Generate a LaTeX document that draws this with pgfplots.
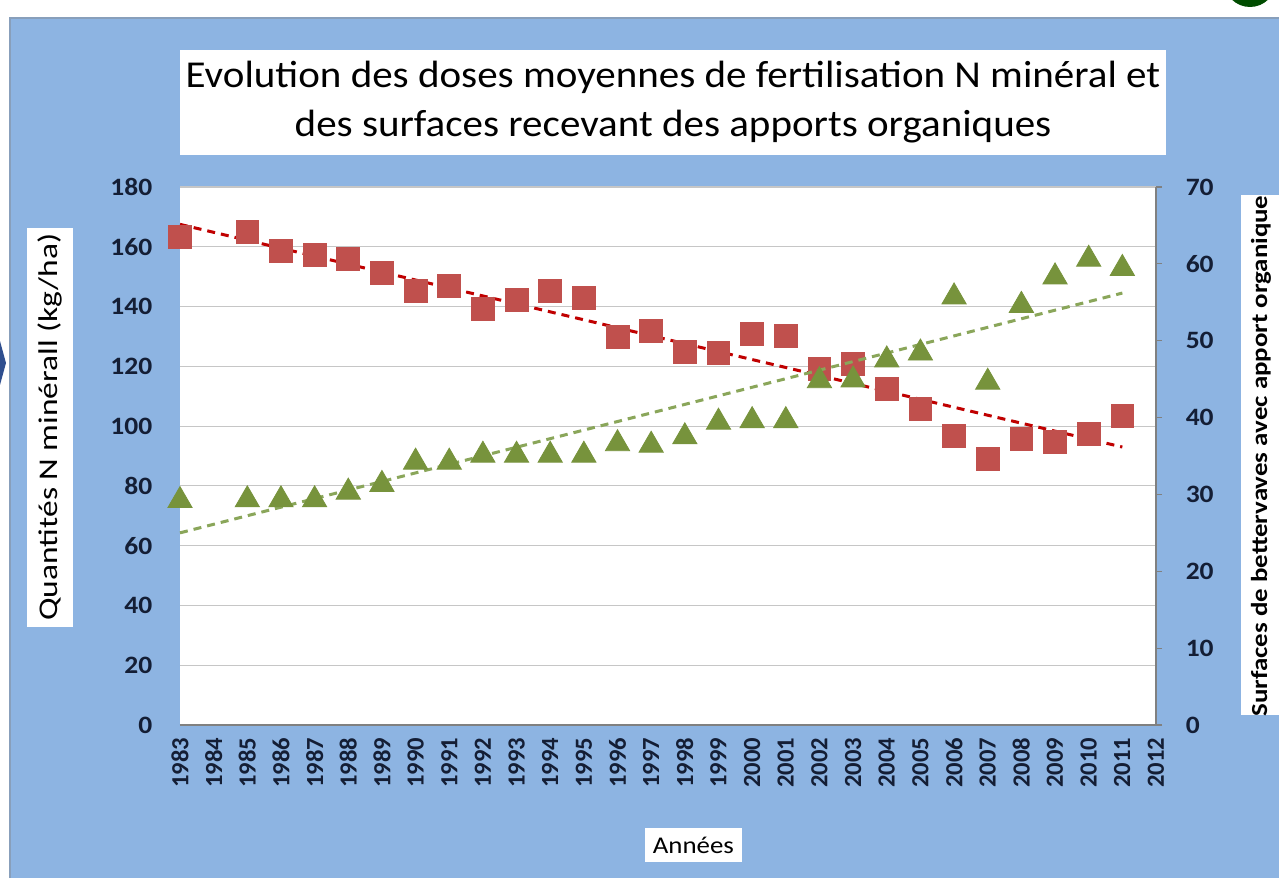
\documentclass[border=0pt]{standalone}
\usepackage{pgfplots}
\pgfplotsset{compat=1.18}
\usepackage{pgfplotstable}
\usepackage{fontspec}
\setmainfont{Carlito}
\definecolor{bgblue}{HTML}{8DB4E2}
\definecolor{sqred}{HTML}{C0504D}
\definecolor{trred}{HTML}{C00000}
\definecolor{trgreen}{HTML}{77933C}
\definecolor{trgreenl}{HTML}{8AA65A}
\definecolor{chev}{HTML}{2F4F8F}
\definecolor{tickc}{HTML}{141E35}

\pgfplotstableread{
year val
1983 163.3
1985 165.0
1986 158.6
1987 157.2
1988 155.9
1989 151.2
1990 145.2
1991 146.9
1992 139.2
1993 142.2
1994 145.2
1995 142.9
1996 129.8
1997 131.8
1998 124.8
1999 124.5
2000 130.8
2001 130.1
2002 119.1
2003 120.8
2004 112.4
2005 105.7
2006 96.7
2007 89.0
2008 95.7
2009 94.7
2010 97.4
2011 103.4
}\nmin

\pgfplotstableread{
year val
1983 29.2
1985 29.3
1986 29.3
1987 29.3
1988 30.3
1989 31.3
1990 34.2
1991 34.2
1992 35.1
1993 35.1
1994 35.1
1995 35.1
1996 36.6
1997 36.4
1998 37.5
1999 39.4
2000 39.6
2001 39.6
2002 44.8
2003 44.9
2004 47.5
2005 48.4
2006 55.7
2007 44.6
2008 54.6
2009 58.3
2010 60.6
2011 59.4
}\surf

\begin{document}
\begin{tikzpicture}[x=1pt,y=1pt]
\useasboundingbox (-90,-76.5) rectangle (549.5,362.5);
\fill[white] (-90,-76.5) rectangle (549.5,362.5);
\fill[bgblue] (-85,-76.5) rectangle (549.5,353.5);
\draw[bgblue!60!gray, line width=0.6pt] (-85,-76.5) -- (-85,353.5) -- (549.5,353.5);
\fill[chev] (-90,192) -- (-87,181) -- (-90,170) -- cycle;
\begin{scope}
\clip (-90,-76.5) rectangle (549.5,362.5);
\fill[green!30!black] (535,372) circle (13);
\end{scope}
% title
\fill[white] (0,285) rectangle (493,337.5);
\node[font=\fontsize{19}{24.5}\selectfont, align=center, inner sep=0, xscale=1.08] at (246.5,311.5)
  {Evolution des doses moyennes de fertilisation N minéral et\\des surfaces recevant des apports organiques};
% left y label
\fill[white] (-76.5,49) rectangle (-53.5,248.5);
\node[rotate=90, font=\fontsize{13.5}{16}\selectfont, inner sep=0, xscale=1.24] at (-65,149) {Quantités N minérall (kg/ha)};
% right y label
\fill[white] (530.5,5) rectangle (549.5,265);
\node[rotate=90, font=\bfseries\fontsize{11.5}{13}\selectfont, inner sep=0, xscale=1.17] at (540.5,134.5) {Surfaces de bettervaves avec apport organique};
% x label
\fill[white] (232.5,-68.5) rectangle (281,-51.5);
\node[font=\fontsize{12}{14}\selectfont, inner sep=0, xscale=1.12] at (256.7,-60) {Années};

\begin{axis}[
  at={(0,0)}, anchor=south west,
  width=488pt, height=269pt, scale only axis,
  xmin=1983, xmax=2012, ymin=0, ymax=180,
  xtick={1983,...,2012}, ytick={0,20,...,180},
  axis background/.style={fill=white},
  axis x line*=bottom, axis y line*=left,
  x axis line style={gray, line width=0.6pt, -},
  y axis line style={draw=none},
  ymajorgrids, grid style={gray!45, line width=0.6pt},
  tick style={draw=none},
  /pgf/number format/assume math mode=true,
  /pgf/number format/1000 sep={},
  xticklabel style={rotate=90, anchor=east, font=\bfseries\fontsize{12.3}{14}\selectfont, xshift=-3pt, text=tickc},
  yticklabel style={font=\bfseries\fontsize{12.5}{14}\selectfont, xshift=-10pt, xscale=1.1, text=tickc},
  clip=false,
]
\addplot[only marks, mark=square*, mark size=5.7pt, color=sqred] table[x=year,y=val]{\nmin};
\addplot[trred, line width=1.5pt, dash pattern=on 4pt off 3pt] coordinates {(1983,167.5) (2011,93.0)};
\end{axis}

\begin{axis}[
  at={(0,0)}, anchor=south west,
  width=488pt, height=269pt, scale only axis,
  xmin=1983, xmax=2012, ymin=0, ymax=70,
  ytick={0,10,...,70},
  axis x line=none, axis y line*=right,
  y axis line style={gray, line width=0.6pt, -},
  tick style={gray, line width=0.6pt},
  tick align=outside, major tick length=3pt,
  /pgf/number format/assume math mode=true,
  yticklabel style={font=\bfseries\fontsize{12.5}{14}\selectfont, xshift=8pt, xscale=1.1, text=tickc},
  clip=false,
]
\addplot[only marks, mark=triangle*, mark size=7pt, color=trgreen] table[x=year,y=val]{\surf};
\addplot[trgreenl, line width=1.5pt, dash pattern=on 4pt off 3pt] coordinates {(1983,25.0) (2011,56.2)};
\end{axis}
\end{tikzpicture}
\end{document}
